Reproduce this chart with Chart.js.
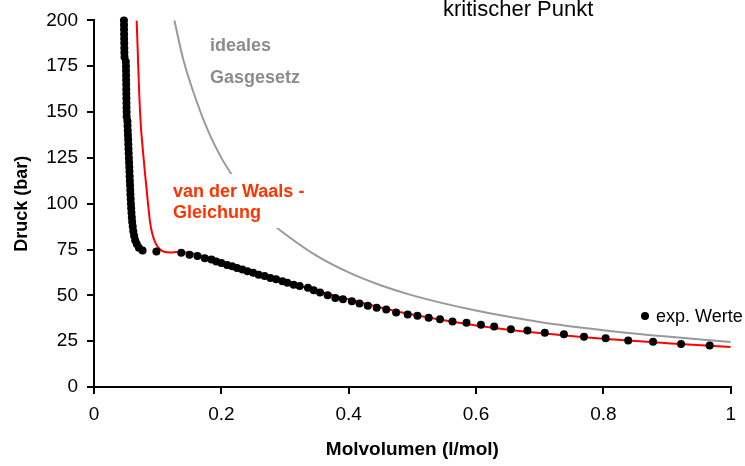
<!DOCTYPE html>
<html>
<head>
<meta charset="utf-8">
<script src="https://cdn.jsdelivr.net/npm/chart.js@4.4.1/dist/chart.umd.min.js"></script>
<style>
  body { margin: 0; background: #fff; }
  #wrap { width: 745px; height: 466px; }
</style>
</head>
<body>
<div id="wrap"><canvas id="chart1" width="745" height="466"></canvas></div>
<script>
// experimental values (CO2 isotherm), volume in l/mol, pressure in bar
var expX = [0.0470, 0.0471, 0.0472, 0.0473, 0.0474, 0.0475, 0.0476, 0.0477, 0.0479,
  0.0500, 0.0502, 0.0503, 0.0504, 0.0505, 0.0506, 0.0507, 0.0508, 0.0509, 0.0510, 0.0511, 0.0512, 0.0513,
  0.0525, 0.0527, 0.0530, 0.0533, 0.0536, 0.0539, 0.0542, 0.0545, 0.0548, 0.0551, 0.0554, 0.0557, 0.0560,
  0.0563, 0.0566, 0.0569, 0.0572, 0.0576, 0.0580, 0.0584, 0.0589, 0.0594, 0.0600, 0.0608, 0.0617, 0.0630,
  0.0647, 0.0672, 0.0705, 0.0763,
  0.098, 0.137, 0.150, 0.1625, 0.174, 0.1845, 0.192, 0.200, 0.209, 0.217, 0.2246, 0.233, 0.241, 0.250,
  0.2586, 0.268, 0.277, 0.286, 0.296, 0.3036, 0.3135, 0.323, 0.336, 0.345, 0.355, 0.367, 0.379, 0.391,
  0.405, 0.417, 0.430, 0.444, 0.459, 0.4745, 0.4927, 0.508, 0.5256, 0.5434, 0.563, 0.585, 0.6077, 0.6285,
  0.6547, 0.6807, 0.708, 0.738, 0.7696, 0.8036, 0.839, 0.878, 0.922, 0.967];
var expY = [200, 197.5, 195, 192.5, 190, 187.5, 185, 182.5, 180,
  177.5, 175, 172.5, 170, 167.5, 165, 162.5, 160, 157.5, 155, 152.5, 150, 147.5,
  145, 142.5, 140, 137.5, 135, 132.5, 130, 127.5, 125, 122.5, 120, 117.5, 115,
  112.5, 110, 107.5, 105, 102.5, 100, 97.5, 95, 92.5, 90, 87.5, 85, 82.5,
  80, 78, 76, 74.4,
  73.9, 73.2, 72.1, 71.4, 70.3, 69.5, 68.5, 67.7, 66.6, 65.9, 64.9, 64.1, 63.1, 62.3,
  61.2, 60.5, 59.5, 58.8, 57.7, 56.9, 55.8, 55.1, 54.1, 52.8, 51.5, 50.1, 48.6, 47.9,
  46.8, 45.6, 44.3, 43.2, 42.3, 40.7, 39.6, 38.9, 37.8, 36.9, 35.7, 35.0, 33.9, 33.0,
  31.5, 30.8, 29.6, 28.8, 27.4, 26.6, 25.4, 24.7, 23.4, 22.7];

// van der Waals curve
var vdwX = [0.067, 0.069, 0.071, 0.0735, 0.0765, 0.080, 0.084, 0.088, 0.092, 0.096, 0.100, 0.104, 0.11,
  0.12, 0.13, 0.15, 0.175, 0.2, 0.25, 0.3, 0.35, 0.4, 0.45, 0.5, 0.6, 0.7, 0.8, 0.9, 1.0];
var vdwY = [200, 180, 160, 143, 130, 117, 103, 90, 83, 79, 76.5, 75, 73.8,
  73.4, 73.6, 73.2, 71.0, 68.3, 62.8, 57.6, 52.5, 47.9, 43.4, 39.5, 33.6, 29.4, 26.3, 23.9, 21.8];

// ideal gas curve
var idealX = [0.125, 0.14, 0.16, 0.18, 0.2, 0.22, 0.25, 0.28, 0.3, 0.35, 0.4, 0.45, 0.5, 0.6, 0.7, 0.8, 0.9, 1.0];
var idealY = [202, 179, 157, 139, 125, 114, 100, 89, 83.5, 71.5, 62.5, 55.5, 50, 41.7, 35.5, 31, 27.5, 24.6];

function pts(xs, ys) {
  return xs.map(function (x, i) { return {x: x, y: ys[i]}; });
}

var FONT = "'Liberation Sans', Arial, sans-serif";

// free text labels drawn on the plot
var notes = {
  id: 'notes',
  afterDatasetsDraw: function (chart) {
    var ctx = chart.ctx;
    ctx.save();
    // white box behind the vdW label (hides the grey line)
    ctx.fillStyle = '#fff';
    ctx.fillRect(168, 174, 142, 54);

    ctx.textBaseline = 'alphabetic';
    ctx.textAlign = 'left';
    ctx.font = 'bold 18px ' + FONT;
    ctx.fillStyle = '#8c8c8c';
    ctx.fillText('ideales', 210, 51);
    ctx.fillText('Gasgesetz', 210, 83);

    ctx.fillStyle = '#ff3300';
    ctx.fillText('van der Waals -', 173, 197);
    ctx.fillText('Gleichung', 173, 218);

    ctx.fillStyle = '#000';
    ctx.font = '22px ' + FONT;
    ctx.fillText('kritischer Punkt', 443, 16);

    // legend entry
    ctx.beginPath();
    ctx.arc(645, 316, 4, 0, Math.PI * 2);
    ctx.fill();
    ctx.font = '18px ' + FONT;
    ctx.fillText('exp. Werte', 656, 322);
    ctx.restore();
  }
};

var c1 = document.getElementById('chart1').getContext('2d');
var chart = new Chart(c1, {
  type: 'scatter',
  data: {
    datasets: [{
      label: 'exp. Werte',
      data: pts(expX, expY),
      backgroundColor: '#000',
      borderColor: '#000',
      pointRadius: 4,
      pointBorderWidth: 0,
      showLine: false,
      clip: false
    }, {
      label: 'van der Waals - Gleichung',
      data: pts(vdwX, vdwY),
      showLine: true,
      borderColor: '#ff0000',
      borderWidth: 2,
      pointRadius: 0,
      cubicInterpolationMode: 'monotone'
    }, {
      label: 'ideales Gasgesetz',
      data: pts(idealX, idealY),
      showLine: true,
      borderColor: '#999999',
      borderWidth: 2,
      pointRadius: 0,
      cubicInterpolationMode: 'monotone'
    }]
  },
  options: {
    responsive: false,
    animation: false,
    layout: { padding: { left: 0, top: 14, right: 12, bottom: 0 } },
    plugins: {
      legend: { display: false },
      tooltip: { enabled: false }
    },
    scales: {
      x: {
        type: 'linear',
        min: 0,
        max: 1,
        afterFit: function (s) { s.height = 79; },
        ticks: {
          stepSize: 0.2, color: '#000', font: { family: FONT, size: 19 }, padding: 9, maxRotation: 0,
          callback: function (v) { return String(Math.round(v * 10) / 10); }
        },
        grid: { drawOnChartArea: false, drawTicks: true, tickLength: 7, color: '#000', lineWidth: 2 },
        border: { display: true, color: '#000', width: 2 },
        title: { display: true, text: 'Molvolumen (l/mol)', color: '#000',
          font: { family: FONT, size: 19, weight: 'bold' }, padding: { top: 0, bottom: 5 } }
      },
      y: {
        type: 'linear',
        min: 0,
        max: 200,
        afterFit: function (s) { s.width = 94; },
        ticks: { stepSize: 25, color: '#000', font: { family: FONT, size: 19 }, padding: 9 },
        grid: { drawOnChartArea: false, drawTicks: true, tickLength: 7, color: '#000', lineWidth: 2 },
        border: { display: true, color: '#000', width: 2 },
        title: { display: true, text: 'Druck (bar)', color: '#000',
          font: { family: FONT, size: 18, weight: 'bold' }, padding: { top: 11, bottom: 0 } }
      }
    }
  },
  plugins: [notes]
});
</script>
</body>
</html>
